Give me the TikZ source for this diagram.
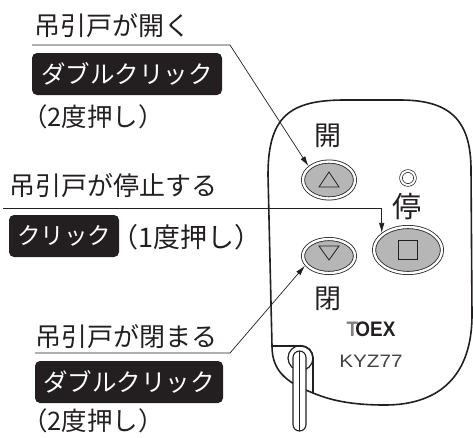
\documentclass[tikz,border=0pt]{standalone}
\usepackage{fontspec}
\usepackage{graphicx}
\setmainfont{Noto Sans CJK JP}
\newfontfamily\latinsans{Liberation Sans}
\usetikzlibrary{arrows.meta,shapes.geometric}
\definecolor{ink}{HTML}{231F20}
\definecolor{btngray}{RGB}{182,182,182}
\tikzset{
  fs/.style={font=\fontsize{#1pt}{#1pt}\selectfont},
  jtext/.style={inner sep=0pt, text=ink, fs=26},
  badge/.style={fill=ink, rounded corners=5pt, text=white, fs=24.5, inner sep=0pt},
  conn/.style={draw=ink, line width=0.7pt, -{Latex[length=10pt,width=5.5pt]}},
  btn/.style={ellipse, draw=ink, fill=btngray, double=white, double distance=2.4pt,
              line width=0.8pt, inner sep=0pt, outer sep=2pt},
  shell/.style={draw=ink, line width=1.6pt},
  glyph/.style={draw=ink, line width=0.8pt, line join=miter},
}
\begin{document}
\begin{tikzpicture}[x=1pt,y=-1pt]
\useasboundingbox (0,0) rectangle (473,437);

% remote control housing
\draw[shell] (268,175) .. controls (268,116) and (290,100) .. (345,100)
  -- (400,100) .. controls (450,100) and (471,120) .. (471,170)
  -- (472,315) .. controls (472,375) and (440,405) .. (385,405)
  .. controls (350,405) and (330,400) .. (313,393)
  .. controls (285,382) and (272,370) .. (272,346) -- cycle;
% key ring slot and hole
\draw[shell, rounded corners=12pt] (272,346) -- (313,346) -- (313,393);
\draw[draw=ink, line width=1.2pt] (300.5,358) circle[radius=12.5pt];
% key ring
\draw[draw=ink, line width=1.1pt, fill=white, rounded corners=6.5pt] (293,351) rectangle (306,431);
\draw[draw=ink, line width=1.1pt] (299.5,351) -- (299.5,431);

% buttons and indicator lamp
\node[btn, minimum width=52pt, minimum height=37pt] (up) at (329,180) {};
\node[btn, minimum width=52pt, minimum height=34pt] (down) at (329,256) {};
\node[btn, minimum width=68pt, minimum height=46pt] (stop) at (408,250) {};
\node[circle, draw=ink, double=white, double distance=2pt, line width=0.7pt,
      minimum size=14pt, inner sep=0pt] (led) at (408,178) {};

% button symbols
\draw[glyph] (up.center) ++(0,-8) -- ++(10,15) -- ++(-20,0) -- cycle;
\draw[glyph] (down.center) ++(-10,-10) -- ++(20,0) -- ++(-10,14) -- cycle;
\draw[glyph] (stop.center) ++(-9.5,-9.5) rectangle ++(19,19);

% button captions
\node[jtext, fs=27] (openlbl) at (328,136) {開};
\node[jtext, fs=29] (stoplbl) at (407,207) {停};
\node[jtext, fs=27] (closelbl) at (328,299) {閉};

% brand and model
\node[inner sep=0pt, text=ink] (logo) at (371,329)
  {\latinsans\bfseries\fontsize{21pt}{21pt}\selectfont\scalebox{0.9}[1]{\textcolor{gray}{T}\kern-3pt OEX}};
\node[inner sep=0pt, text=ink!85] (model) at (371,361)
  {\latinsans\fontsize{18pt}{18pt}\selectfont\scalebox{1.15}[1]{KYZ77}};

% instructions
\node[jtext] (t1) at (112,26) {吊引戸が開く};
\node[badge, minimum width=190pt, minimum height=42pt] (b1) at (127,74) {ダブルクリック};
\node[jtext, fs=25.5] (p1) at (93,117) {（2度押し）};

\node[jtext] (t2) at (113.5,186) {吊引戸が停止する};
\node[badge, minimum width=110pt, minimum height=42pt, fs=23.5] (b2) at (64,236) {クリック};
\node[jtext, fs=27] (p2) at (186.5,237) {（1度押し）};

\node[jtext] (t3) at (126,337) {吊引戸が閉まる};
\node[badge, minimum width=188pt, minimum height=42pt] (b3) at (129,382) {ダブルクリック};
\node[jtext, fs=25.5] (p3) at (93,421) {（2度押し）};

% leader lines
\coordinate (s1) at (32,45);
\coordinate (k1) at (230,45);
\draw[conn] (s1) -- (k1) -- (up.146);
\coordinate (s2) at (3,208);
\draw[conn] (s2) -| (stop.147);
\coordinate (s3) at (35,353);
\coordinate (k3) at (230,353);
\draw[conn] (s3) -- (k3) -- (down.202);
\end{tikzpicture}
\end{document}
